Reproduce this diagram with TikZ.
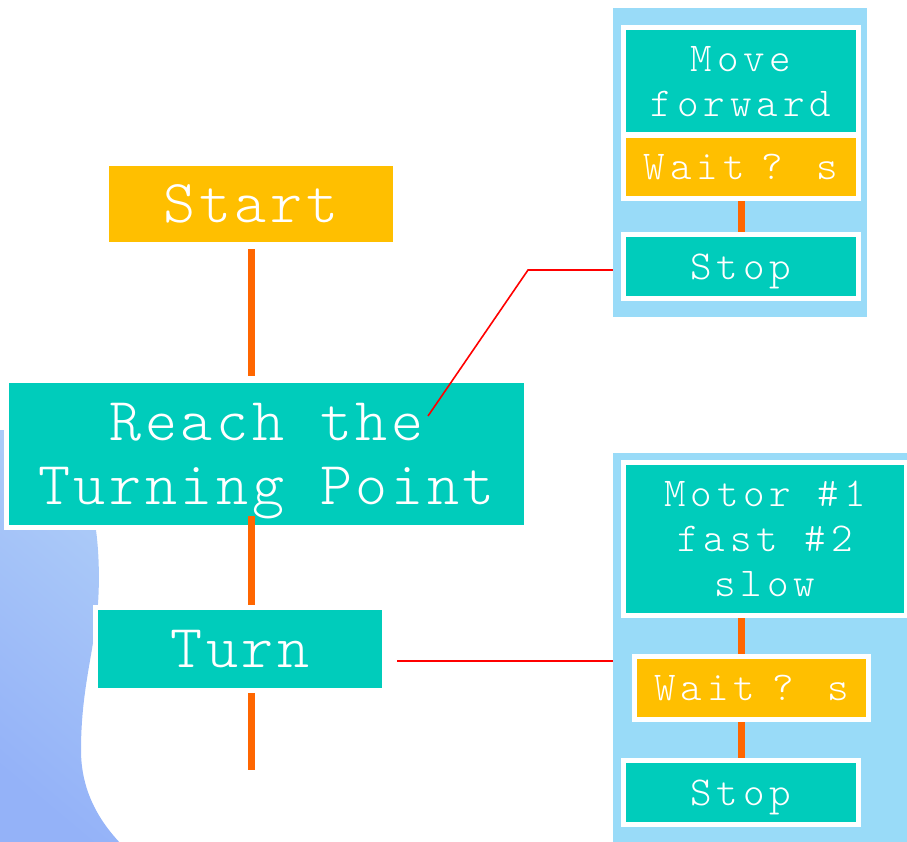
\documentclass[tikz,border=0pt]{standalone}
\usepackage{fontspec}
\usetikzlibrary{calc}
\newfontfamily\boxfontbig[LetterSpace=6]{lmmonolt10-regular.otf}
\newfontfamily\boxfontsmall[LetterSpace=12]{lmmonolt10-regular.otf}
\definecolor{tealfill}{HTML}{00CCBB}
\definecolor{amberfill}{HTML}{FFBF00}
\definecolor{linkorange}{HTML}{FF6600}
\definecolor{panelblue}{HTML}{99DBF8}
\definecolor{shapedark}{HTML}{94B2F8}
\definecolor{shapelight}{HTML}{AECDF8}
\tikzset{
  box/.style={rectangle, draw=white, line width=5pt, inner sep=0pt, text=white, align=center, text depth=0pt},
  tbox/.style={box, fill=tealfill},
  abox/.style={box, fill=amberfill},
  bigtext/.style={font=\boxfontbig\fontsize{61}{64}\selectfont},
  smalltext/.style={font=\boxfontsmall\fontsize{41}{45}\selectfont},
  link/.style={draw=linkorange, line width=7pt},
  pointer/.style={draw=red, line width=1.6pt},
  panel/.style={rectangle, fill=panelblue, inner sep=0pt, draw=none}
}
\begin{document}
\begin{tikzpicture}[x=1pt,y=-1pt]
\useasboundingbox (0,0) rectangle (907,841);
\clip (0,0) rectangle (907,841);
% background shape
\shade[top color=shapelight, bottom color=shapedark, shading angle=-40]
  (0,430) -- (95,430) -- (96,530) .. controls (100,560) and (100,600) .. (95,630)
  .. controls (90,665) and (81,700) .. (81,750)
  .. controls (81,790) and (98,820) .. (122,845) -- (0,845) -- cycle;
% panels
\node[panel, minimum width=254pt, minimum height=309pt] (p1) at (740,162.5) {};
\node[panel, minimum width=312pt, minimum height=407pt] (p2) at (769,656.5) {};
% main flow
\node[abox, bigtext, minimum width=289pt, minimum height=81pt] (start) at (251,204) {Start};
\node[tbox, bigtext, minimum width=520pt, minimum height=147pt] (reach) at (266.5,454) {Reach the\\Turning Point};
\node[tbox, bigtext, minimum width=289pt, minimum height=83pt] (turn) at (240,649) {Turn};
% panel 1
\node[tbox, smalltext, minimum width=235pt, minimum height=107pt] (move) at (741,81) {Move\\forward};
\node[abox, smalltext, minimum width=235pt, minimum height=63pt] (waitA) at (741,167) {Wait \kern-9pt? \kern-2pt s};
\node[tbox, smalltext, minimum width=235pt, minimum height=64pt] (stopA) at (741,266.5) {Stop};
% panel 2
\node[tbox, smalltext, minimum width=283pt, minimum height=153pt] (motor) at (765,539) {Motor \#1\\fast \#2\\slow};
\node[abox, smalltext, minimum width=234pt, minimum height=63pt] (waitB) at (751.5,688) {Wait \kern-9pt? \kern-2pt s};
\node[tbox, smalltext, minimum width=235pt, minimum height=64pt] (stopB) at (741,792.5) {Stop};
% connectors
\draw[link] ($(start.south)+(0,2)$) -- ($(start.south |- reach.north)+(0,-2)$);
\draw[link] ($(start.south |- reach.south)+(0,-14)$) -- (start.south |- turn.north);
\coordinate (tail) at (251,770);
\draw[link] (start.south |- turn.south) -- (tail);
\draw[link] (stopA.north |- waitA.south) -- (stopA.north);
\draw[link] (stopB.north |- motor.south) -- (stopB.north |- waitB.north);
\draw[link] (stopB.north |- waitB.south) -- (stopB.north);
% red pointers
\coordinate (ra) at (428,416);
\coordinate (rb) at (528,270);
\draw[pointer] (ra) -- (rb) -- (p1.west |- rb);
\coordinate (rc) at (397,661);
\draw[pointer] (rc) -- (p2.west |- rc);
\end{tikzpicture}
\end{document}
